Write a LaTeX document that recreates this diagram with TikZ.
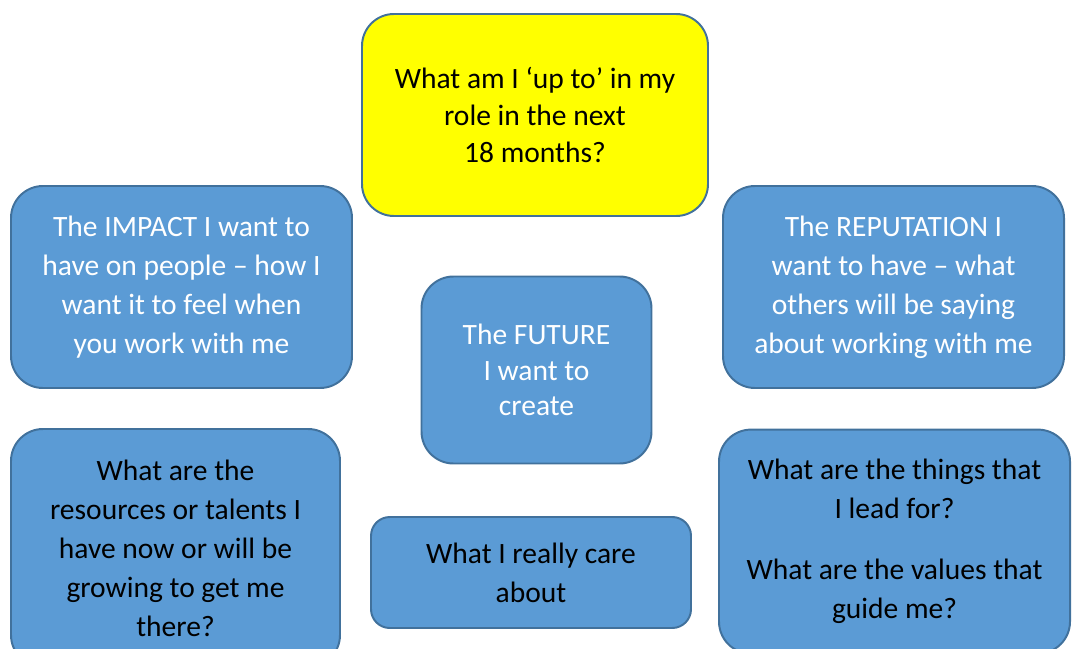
\documentclass[tikz,border=0pt]{standalone}
\usepackage{fontspec}
\setmainfont{Carlito}
\definecolor{boxblue}{HTML}{5B9BD5}
\definecolor{boxedge}{HTML}{41719C}
\definecolor{boxyellow}{HTML}{FFFF00}
\tikzset{
	card/.style={draw=boxedge, line width=1.4pt, fill=boxblue, rounded corners=0.8cm,
		align=center, inner sep=0pt, font=\fontsize{21}{27.7}\selectfont},
	lighttext/.style={text=white},
}
\begin{document}
\begin{tikzpicture}
	\useasboundingbox (0,0) rectangle (26.8,-16.2);
	\clip (0,0) rectangle (26.8,-16.2);
	\node[card, fill=boxyellow, minimum width=8.65cm, minimum height=5.05cm,
		font=\fontsize{21}{26}\selectfont] (goal) at (13.375,-2.875)
		{What am I `up to' in my\\ role in the next\\ 18 months?};
	\node[card, lighttext, minimum width=8.525cm, minimum height=5.05cm] (impact) at (4.5375,-7.175)
		{The IMPACT I want to\\ have on people -- how I\\ want it to feel when\\ you work with me};
	\node[card, lighttext, minimum width=8.525cm, minimum height=5.05cm] (reputation) at (22.3375,-7.175)
		{The REPUTATION I\\ want to have -- what\\ others will be saying\\ about working with me};
	\node[card, lighttext, minimum width=5.75cm, minimum height=4.675cm,
		font=\fontsize{21}{25.3}\selectfont] (future) at (13.4125,-9.25)
		{The FUTURE\\ I want to\\ create};
	\node[card, minimum width=8.225cm, minimum height=5.95cm] (resources) at (4.3875,-13.7)
		{What are the\\ resources or talents I\\ have now or will be\\ growing to get me\\ there?};
	\node[card, minimum width=8.775cm, minimum height=5.6cm] (values) at (22.3625,-13.54)
		{What are the things that\\ I lead for?\\[0.55cm] What are the values that\\ guide me?};
	\node[card, rounded corners=0.47cm, minimum width=8cm, minimum height=2.775cm] (care) at (13.275,-14.3125)
		{What I really care\\ about};
\end{tikzpicture}
\end{document}
